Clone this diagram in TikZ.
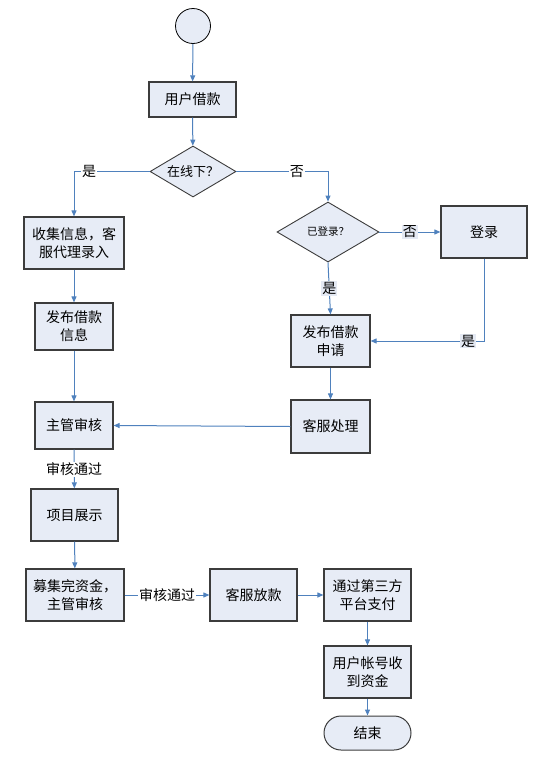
\documentclass[tikz,border=0pt]{standalone}
\usepackage{fontspec}
\setmainfont{Noto Sans CJK SC}
\usetikzlibrary{shapes.geometric,arrows.meta}
\definecolor{boxfill}{RGB}{231,236,246}
\definecolor{boxline}{RGB}{60,60,60}
\definecolor{flow}{RGB}{79,129,189}
\definecolor{lblfill}{RGB}{228,233,243}
\tikzset{
  box/.style={rectangle, draw=boxline, line width=1.2pt, fill=boxfill, inner sep=0pt, align=center,
    font=\fontsize{14}{18}\selectfont},
  decision/.style={diamond, draw=boxline, line width=0.9pt, fill=boxfill, inner sep=0pt, aspect=1.7, align=center},
  flowline/.style={draw=flow, line width=1pt, -{Triangle[width=5pt,length=6pt]}},
  lbl/.style={fill=white, inner sep=1pt, font=\fontsize{14}{16}\selectfont, text=black},
  tlbl/.style={fill=lblfill, inner sep=1pt, font=\fontsize{14}{16}\selectfont, text=black},
}
\begin{document}
\begin{tikzpicture}[x=1pt,y=-1pt]
\useasboundingbox (0,0) rectangle (539,758);
% nodes
\node[circle, draw=black, line width=0.8pt, fill=boxfill, minimum size=35pt, inner sep=0pt] (start) at (193,26) {};
\node[box, minimum width=87pt, minimum height=35pt] (user) at (192.5,99.5) {用户借款};
\node[decision, minimum width=86pt, minimum height=51pt, font=\fontsize{13}{15}\selectfont] (q1) at (193,171.5) {在线下？};
\node[box, minimum width=100pt, minimum height=52pt] (collect) at (74,243) {收集信息，客\\服代理录入};
\node[decision, minimum width=102pt, minimum height=60pt, font=\fontsize{10.5}{12}\selectfont] (q2) at (328,232) {已登录？};
\node[box, minimum width=86pt, minimum height=52pt] (login) at (484,232) {登录};
\node[box, minimum width=79pt, minimum height=52pt] (apply) at (330.5,341) {发布借款\\申请};
\node[box, minimum width=78pt, minimum height=47pt] (publish) at (74,326.5) {发布借款\\信息};
\node[box, minimum width=78pt, minimum height=47pt] (review) at (74,425.5) {主管审核};
\node[box, minimum width=79pt, minimum height=53pt] (service) at (330.5,426.5) {客服处理};
\node[box, minimum width=87pt, minimum height=52pt] (show) at (74.5,515) {项目展示};
\node[box, minimum width=98pt, minimum height=52pt] (raise) at (75,595) {募集完资金，\\主管审核};
\node[box, minimum width=87pt, minimum height=52pt] (loan) at (253.5,595) {客服放款};
\node[box, minimum width=87pt, minimum height=52pt] (third) at (367.5,595) {通过第三方\\平台支付};
\node[box, minimum width=87pt, minimum height=52pt] (receive) at (367.5,672) {用户帐号收\\到资金};
\node[box, line width=1pt, rounded corners=17pt, minimum width=87pt, minimum height=34pt] (end) at (367.5,733) {结束};
% connectors
\draw[flowline] (start) -- (user);
\draw[flowline] (user) -- (q1);
\draw[flowline] (q1.west) -| node[lbl, pos=0.4] {是} (collect.north);
\draw[flowline] (q1.east) -| node[lbl, pos=0.33] {否} (q2.north);
\draw[flowline] (q2.east) -- node[tlbl] {否} (login.west);
\draw[flowline] (q2.south) -- node[tlbl] {是} (apply.north);
\draw[flowline] (login.south) |- node[tlbl, pos=0.57] {是} (apply.east);
\draw[flowline] (collect.south) -- (publish.north);
\draw[flowline] (publish) -- (review);
\draw[flowline] (apply) -- (service);
\draw[flowline] (service.west) -- (review.east);
\draw[flowline] (review) -- node[lbl] {审核通过} (show);
\draw[flowline] (show) -- (raise);
\draw[flowline] (raise) -- node[lbl] {审核通过} (loan);
\draw[flowline] (loan) -- (third);
\draw[flowline] (third) -- (receive);
\draw[flowline] (receive) -- (end);
\end{tikzpicture}
\end{document}
